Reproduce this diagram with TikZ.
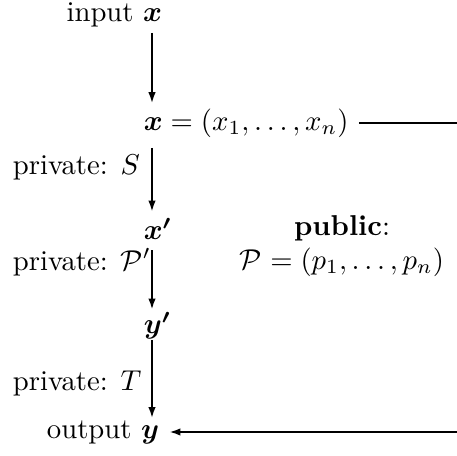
\documentclass[tikz,border=0pt]{standalone}
\usepackage{amsmath}
\usetikzlibrary{arrows.meta}

\begin{document}
\begin{tikzpicture}[x=0.3484pt,y=-0.3484pt,>={Latex[length=3.8pt,width=2.6pt]},line width=0.6pt,
    lab/.style={anchor=west},sym/.style={anchor=west}]
  \useasboundingbox (0,0) rectangle (457,456);
  \coordinate (axis) at (152,0);
  \node[anchor=east] (in) at (172.5,15) {input $\boldsymbol{x}$};
  \node[sym] (xvec) at (133.4,123) {$\boldsymbol{x} = (x_1,\ldots,x_n)$};
  \node[sym] (xp) at (133.4,229) {$\boldsymbol{x'}$};
  \node[sym] (yp) at (133.4,326) {$\boldsymbol{y'}$};
  \node[anchor=east] (out) at (169.5,432) {output $\boldsymbol{y}$};
  \node[lab] (labS) at (2.4,167) {private: $S$};
  \node[lab] (labP) at (2.4,262) {private: $\mathcal{P}'$};
  \node[lab] (labT) at (2.4,383) {private: $T$};
  \node[align=center] (pub) at (342,246) {\textbf{public}:\\ $\mathcal{P} = (p_1,\ldots,p_n)$};
  \coordinate (pubtop) at (457,123);
  \coordinate (pubbot) at (457,432);
  \draw[->,shorten <=-1.7pt,shorten >=-1.7pt] (in.south -| axis) -- (xvec.north -| axis);
  \draw[->,shorten >=-1.3pt] (xvec.south -| axis) -- (xp.north -| axis);
  \draw[->,shorten >=-2.6pt] (xp.south -| axis) -- (yp.north -| axis);
  \draw[->,shorten <=-3.4pt,shorten >=-2.8pt] (yp.south -| axis) -- (out.north -| axis);
  \draw (xvec.east) -- (pubtop);
  \draw[->] (pubbot) -- (out.east);
\end{tikzpicture}
\end{document}
